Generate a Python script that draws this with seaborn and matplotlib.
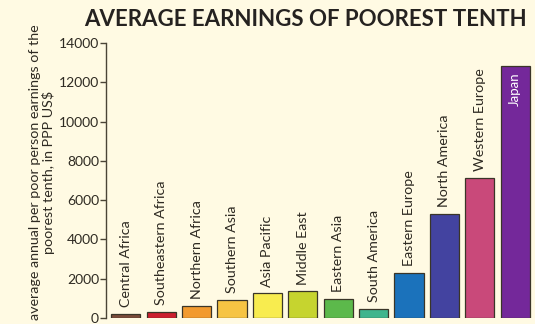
import matplotlib
matplotlib.use("Agg")
import matplotlib.pyplot as plt
import seaborn as sns
import pandas as pd

categories = ["Central Africa", "Southeastern Africa", "Northern Africa", "Southern Asia",
              "Asia Pacific", "Middle East", "Eastern Asia", "South America",
              "Eastern Europe", "North America", "Western Europe", "Japan"]
values = [200, 300, 600, 900, 1250, 1350, 950, 450, 2300, 5300, 7150, 12850]
colors = ["#7b4b3a", "#cc1f2f", "#f29a2e", "#f6c443", "#f8ec4f", "#c6d42f",
          "#5cb94b", "#3fb58d", "#1b72bb", "#4343a0", "#c9497a", "#74289a"]
yticks = [0, 2000, 4000, 6000, 8000, 10000, 12000, 14000]
title = "AVERAGE EARNINGS OF POOREST TENTH"
ylabel = "average annual per poor person earnings of the\npoorest tenth, in PPP US$"

bg = "#fffae3"
txt = "#2e2a22"

sns.set_theme(style="white")
plt.rcParams["font.family"] = ["Lato", "DejaVu Sans"]

df = pd.DataFrame({"region": categories, "value": values})

fig = plt.figure(figsize=(5.35, 3.24), dpi=100, facecolor=bg)
ax = fig.add_axes([106 / 535, 6 / 324, 1 - 106 / 535, (318 - 43) / 324])
ax.set_facecolor(bg)

sns.barplot(data=df, x="region", y="value", hue="region", palette=colors,
            legend=False, width=0.82, edgecolor="#3a3528", linewidth=0.9,
            saturation=1, ax=ax)

ax.set_xlim(-0.56, 11.56)
ax.set_ylim(0, 14000)
ax.set_yticks(yticks)
ax.set_yticklabels([str(v) for v in yticks], fontsize=10, color=txt)
ax.set_xticks([])
ax.set_xlabel("")
ax.set_ylabel("")
for s in ["top", "right", "bottom"]:
    ax.spines[s].set_visible(False)
ax.spines["left"].set_color("#4a4436")
ax.spines["left"].set_linewidth(1.0)
ax.tick_params(axis="y", direction="out", length=4, width=1, color="#4a4436", pad=1, left=True)

for i, (cat, v) in enumerate(zip(categories, values)):
    if cat == "Japan":
        ax.annotate(cat, (i, v), xytext=(0, -5), textcoords="offset points",
                    rotation=90, ha="center", va="top", fontsize=9.5, color="white")
    else:
        ax.annotate(cat, (i, v), xytext=(0, 5), textcoords="offset points",
                    rotation=90, ha="center", va="bottom", fontsize=10.3, color=txt)

fig.text(305 / 535, 1 - 20 / 324, title, ha="center", va="center",
         fontsize=16.0, fontweight="bold", color="#252220")
fig.text(42 / 535, 1 - 172 / 324, ylabel, rotation=90, ha="center", va="center",
         multialignment="center", fontsize=10.3, color=txt, linespacing=1.05)

fig.savefig("out.png", dpi=100, facecolor=bg)
